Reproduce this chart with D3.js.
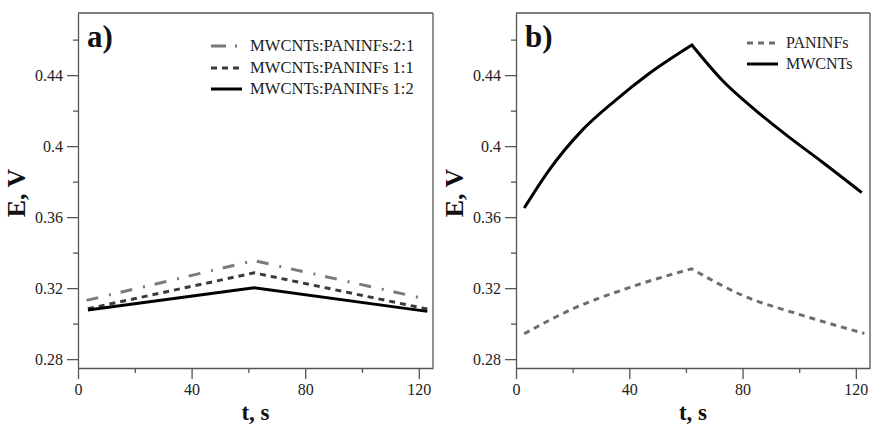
<!DOCTYPE html>
<html><head><meta charset="utf-8">
<script src="https://cdn.jsdelivr.net/npm/d3@7"></script>
<style>body{margin:0;background:#fff}svg{display:block}
svg text{font-family:"Liberation Serif","Tinos","Times New Roman","Nimbus Roman","DejaVu Serif",serif !important}</style>
</head><body>
<svg id="c" width="871" height="424"></svg>
<script>
// ---- data ----
const xMajorTicks = [0, 40, 80, 120];
const xMinorTicks = [20, 60, 100];
const yMajorTicks = [0.28, 0.32, 0.36, 0.40, 0.44];
const yMinorTicks = [0.30, 0.34, 0.38, 0.42, 0.46];
const yTickLabels = ["0.28", "0.32", "0.36", "0.4", "0.44"];

const tA21 = [3, 62, 123];
const eA21 = [0.3131, 0.3355, 0.3137];
const tA11 = [3.5, 62, 123];
const eA11 = [0.3084, 0.3286, 0.3082];
const tA12 = [3.5, 62, 123];
const eA12 = [0.3077, 0.3202, 0.3069];

const tB_M = [2.9, 11.7, 23.4, 35.1, 46.9, 62.1, 72.9, 84.6, 96.3, 108, 122.1];
const eB_M = [0.3651, 0.3865, 0.4090, 0.4258, 0.4408, 0.4570, 0.4370, 0.4202, 0.4052, 0.3912, 0.3738];
const tB_P = [2.9, 20, 40, 62, 80, 100, 123];
const eB_P = [0.2943, 0.3083, 0.3203, 0.3309, 0.3159, 0.3052, 0.2945];

const legendA = ["MWCNTs:PANINFs:2:1", "MWCNTs:PANINFs 1:1", "MWCNTs:PANINFs 1:2"];
const legendB = ["PANINFs", "MWCNTs"];

// ---- drawing ----
const svg = d3.select("#c");
const axisColor = "#555";

function panel(cfg) {
  const x = d3.scaleLinear().domain([0, 125]).range([cfg.left, cfg.right]);
  const y = d3.scaleLinear().domain([0.275, 0.475]).range([368, 13]);
  const g = svg.append("g");
  g.append("line").attr("x1", cfg.left).attr("x2", cfg.right).attr("y1", 13).attr("y2", 13)
    .attr("stroke", axisColor).attr("stroke-width", 1.3);
  g.append("line").attr("x1", cfg.right).attr("x2", cfg.right).attr("y1", 13).attr("y2", 368)
    .attr("stroke", axisColor).attr("stroke-width", 1.3);
  g.append("g").attr("transform", "translate(0,368)")
    .call(d3.axisBottom(x).tickValues(xMajorTicks).tickSize(11).tickSizeOuter(0).tickPadding(5).tickFormat(d3.format("d")));
  g.append("g").attr("transform", "translate(0,368)")
    .call(d3.axisBottom(x).tickValues(xMinorTicks).tickSize(5).tickSizeOuter(0).tickFormat(""))
    .select(".domain").remove();
  g.append("g").attr("transform", `translate(${cfg.left},0)`)
    .call(d3.axisLeft(y).tickValues(yMajorTicks).tickSize(11).tickSizeOuter(0).tickPadding(4)
      .tickFormat((d, i) => yTickLabels[i]));
  g.append("g").attr("transform", `translate(${cfg.left},0)`)
    .call(d3.axisLeft(y).tickValues(yMinorTicks).tickSize(5).tickSizeOuter(0).tickFormat(""))
    .select(".domain").remove();
  g.selectAll(".domain, .tick line").attr("stroke", axisColor).attr("stroke-width", 1.3);
  g.selectAll(".tick text").attr("font-size", 16).attr("fill", "#222");
  g.append("text").attr("x", (cfg.left + cfg.right) / 2).attr("y", 420)
    .attr("text-anchor", "middle").attr("font-weight", "bold").attr("font-size", 23).attr("fill", "#111")
    .text("t, s");
  g.append("text").attr("transform", `translate(${cfg.left - 53},193) rotate(-90)`)
    .attr("text-anchor", "middle").attr("font-weight", "bold").attr("font-size", 26).attr("fill", "#111")
    .text("E, V");
  g.append("text").attr("x", cfg.left + 9).attr("y", 47).attr("font-weight", "bold")
    .attr("font-size", 31).attr("fill", "#111").text(cfg.tag);
  const seg = d3.line().x(d => x(d[0])).y(d => y(d[1])).curve(d3.curveMonotoneX);
  cfg.series.forEach((s, i) => {
    const pts = d3.zip(s.t, s.e);
    const k = d3.maxIndex(s.e);
    const d1 = seg(pts.slice(0, k + 1));
    const d2 = seg(pts.slice(k)).replace(/^M[^A-Za-z]*/, "");
    g.append("path").attr("d", d1 + d2).attr("fill", "none")
      .attr("stroke", s.color).attr("stroke-width", s.w).attr("stroke-dasharray", s.dash || null)
      .attr("stroke-linejoin", "miter");
    const ly = cfg.legY[i];
    g.append("line").attr("x1", cfg.legX).attr("x2", cfg.legX + 31).attr("y1", ly).attr("y2", ly)
      .attr("stroke", s.color).attr("stroke-width", s.w).attr("stroke-dasharray", s.legDash || s.dash || null);
    g.append("text").attr("x", cfg.legX + 39).attr("y", ly + 5).attr("font-size", cfg.legFont).attr("fill", "#222")
      .text(s.name);
  });
}

panel({
  left: 78, right: 433, tag: "a)", legX: 211, legY: [46, 68, 89], legFont: 16.6,
  series: [
    {name: legendA[0], t: tA21, e: eA21, color: "#7a7a7a", w: 3, dash: "12,11,2,10", legDash: "15,9,2,20"},
    {name: legendA[1], t: tA11, e: eA11, color: "#3a3a3a", w: 3, dash: "6,5"},
    {name: legendA[2], t: tA12, e: eA12, color: "#000", w: 3}
  ]
});
panel({
  left: 516, right: 870, tag: "b)", legX: 747, legY: [43, 64], legFont: 16,
  series: [
    {name: legendB[0], t: tB_P, e: eB_P, color: "#6e6e6e", w: 3, dash: "6,5"},
    {name: legendB[1], t: tB_M, e: eB_M, color: "#000", w: 3}
  ]
});
</script>
</body></html>
